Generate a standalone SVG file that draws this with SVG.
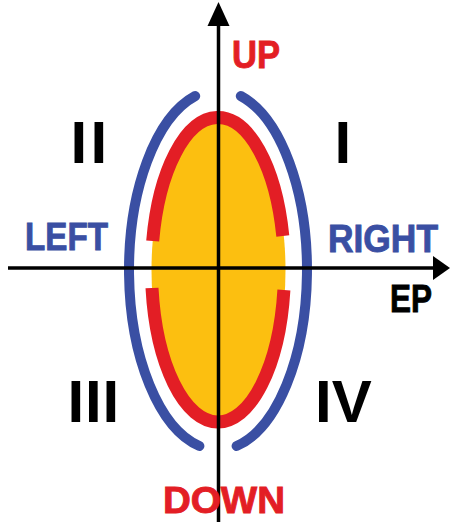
<svg xmlns="http://www.w3.org/2000/svg" width="452" height="522" viewBox="0 0 452 522">
<style>
text{font-family:"Liberation Sans",Arial,sans-serif;font-weight:bold}
.lbl{font-size:38px;stroke-width:0.9}
.num{font-size:60px;fill:#000}
.blue{fill:none;stroke:#3A4FA3;stroke-width:10;stroke-linecap:round}
.red{fill:none;stroke:#E31E25;stroke-width:13;stroke-linecap:butt}
.axis{stroke:#000;stroke-width:3.5;fill:none}
</style>
<rect width="452" height="522" fill="#fff"/>
<g id="fill-region">
<ellipse cx="218.5" cy="270" rx="67" ry="152" fill="#FCBF10"/>
</g>
<g id="red-contour">
<path class="red" d="M152.7,241 A66.5,152.5 0 0 1 282.8,236"/>
<path class="red" d="M283.9,290 A66.5,152.5 0 0 1 152,288"/>
</g>
<g id="blue-contour">
<path class="blue" d="M195.2,96 A89,180 0 0 0 199.4,446"/>
<path class="blue" d="M240.8,96 A89,180 0 0 1 236.6,446"/>
</g>
<g id="connectors">
<line class="axis" x1="218.5" y1="22" x2="218.5" y2="522"/>
<polygon points="218.5,2 207.5,26 229.5,26" fill="#000"/>
<line class="axis" x1="8" y1="268" x2="436" y2="268"/>
<polygon points="450,268 433,256 433,280" fill="#000"/>
</g>
<g id="up"><text class="lbl" x="232" y="68" fill="#E31E25" stroke="#E31E25" textLength="48" lengthAdjust="spacingAndGlyphs">UP</text></g>
<g id="down"><text class="lbl" x="163" y="513" fill="#E31E25" stroke="#E31E25" style="font-size:37px" textLength="122" lengthAdjust="spacingAndGlyphs">DOWN</text></g>
<g id="left"><text class="lbl" x="25" y="250" fill="#3A4FA3" stroke="#3A4FA3" textLength="83" lengthAdjust="spacingAndGlyphs">LEFT</text></g>
<g id="right"><text class="lbl" x="328" y="252" fill="#3A4FA3" stroke="#3A4FA3" textLength="110" lengthAdjust="spacingAndGlyphs">RIGHT</text></g>
<g id="ep"><text class="lbl" x="390" y="312" fill="#000" stroke="#000" textLength="42" lengthAdjust="spacingAndGlyphs">EP</text></g>
<g id="q1"><text class="num" x="334.6" y="163">I</text></g>
<g id="q2"><text class="num" x="70.6" y="163" letter-spacing="3.3">II</text></g>
<g id="q3"><text class="num" x="67.6" y="422" letter-spacing="0.8">III</text></g>
<g id="q4"><text class="num" x="315" y="422">IV</text></g>
</svg>
